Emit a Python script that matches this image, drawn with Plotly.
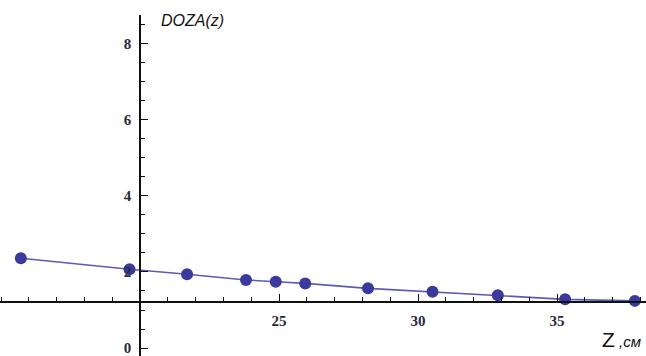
import plotly.graph_objects as go

# Data
z_cm = [15.71, 19.62, 21.69, 23.81, 24.88, 25.94, 28.2, 30.52, 32.87, 35.29, 37.8]
doza = [2.36, 2.07, 1.94, 1.79, 1.745, 1.70, 1.57, 1.48, 1.39, 1.28, 1.24]
x_ticks = [25, 30, 35]
y_ticks = [0, 2, 4, 6, 8]

W, H = 646, 356
X_RANGE = [14.96, 38.2]
Y_RANGE = [-0.21, 8.76]
Y_DOMAIN = [0, 1 - 15 / H]
AXIS_X = 20      # y-axis crosses here
AXIS_Y = 1.21    # x-axis crosses here

x_pos = (AXIS_X - X_RANGE[0]) / (X_RANGE[1] - X_RANGE[0])
y_pos = Y_DOMAIN[0] + (AXIS_Y - Y_RANGE[0]) / (Y_RANGE[1] - Y_RANGE[0]) * (Y_DOMAIN[1] - Y_DOMAIN[0])

fig = go.Figure()
fig.add_trace(go.Scatter(x=z_cm, y=doza, mode="lines",
                         line=dict(color="#5c5cb4", width=1.6), showlegend=False))
fig.add_trace(go.Scatter(x=z_cm, y=doza, mode="markers",
                         marker=dict(color="#3a3a9c", size=12, line=dict(width=0)),
                         showlegend=False))

tickfont = dict(family="Liberation Serif", size=15, color="#2a2a3a", weight="bold")
fig.update_layout(
    width=W, height=H,
    margin=dict(l=0, r=0, t=0, b=0),
    paper_bgcolor="white", plot_bgcolor="white",
    xaxis=dict(range=X_RANGE, anchor="free", position=y_pos, showgrid=False, zeroline=False,
               showline=True, linecolor="#111111", linewidth=1.5,
               tickmode="array", tickvals=x_ticks, ticks="inside", ticklen=7, tickwidth=1.3,
               tickcolor="#111111", tickfont=tickfont, ticklabelstandoff=5,
               ticklabeloverflow="allow",
               minor=dict(dtick=1, tick0=0, ticks="inside", ticklen=4, tickwidth=1.2, tickcolor="#111111"),
               automargin=False, fixedrange=True),
    yaxis=dict(range=Y_RANGE, domain=Y_DOMAIN, anchor="free", position=x_pos, showgrid=False,
               zeroline=False, showline=True, linecolor="#111111", linewidth=1.5,
               tickmode="array", tickvals=y_ticks, ticks="inside", ticklen=7, tickwidth=1.3,
               tickcolor="#111111", tickfont=tickfont, ticklabelstandoff=5,
               ticklabeloverflow="allow",
               minor=dict(dtick=0.5, tick0=0, ticks="inside", ticklen=4, tickwidth=1.2, tickcolor="#111111"),
               automargin=False, fixedrange=True),
    annotations=[
        dict(text="<i>DOZA(z)</i>", xref="paper", yref="paper", x=159 / W, y=1 - 20 / H,
             xanchor="left", yanchor="middle", showarrow=False,
             font=dict(family="Liberation Sans", size=16, color="#111111")),
        dict(text="<span style='font-size:21px'>Z</span><i> ,см</i>", xref="paper", yref="paper",
             x=643 / W, y=1 - 339 / H, xanchor="right", yanchor="middle", showarrow=False,
             font=dict(family="Liberation Sans", size=15, color="#111111")),
    ],
)

fig.write_html("out.html")
